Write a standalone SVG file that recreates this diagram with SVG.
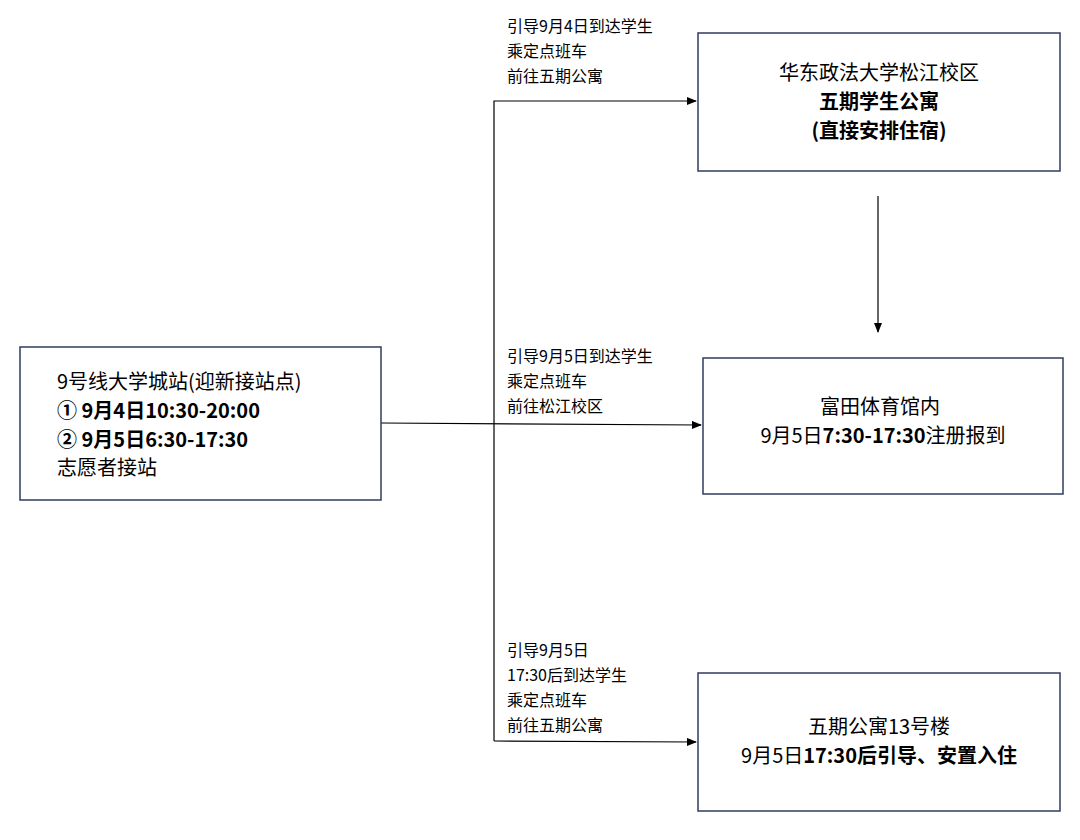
<svg xmlns="http://www.w3.org/2000/svg" width="1080" height="840" viewBox="0 0 1080 840">
<style>
text{font-family:"Noto Sans CJK SC","Noto Sans",sans-serif;fill:#000}
.box{fill:#fff;stroke:#2F3D5E;stroke-width:1.5}
.lbl{font-size:16px}
.t{font-size:20px}
.b{font-weight:bold}
.ln{stroke:#000;stroke-width:1.2;fill:none}
</style>
<defs><marker id="ar" markerWidth="10" markerHeight="8" refX="9" refY="4" orient="auto" markerUnits="userSpaceOnUse"><path d="M0,0L10,4L0,8z" fill="#000"/></marker></defs>
<rect width="1080" height="840" fill="#fff"/>
<g id="connectors">
<path class="ln" d="M381,423L701,425" marker-end="url(#ar)"/>
<path class="ln" d="M494,741L494,101L696,101" marker-end="url(#ar)"/>
<path class="ln" d="M494,741L696,742" marker-end="url(#ar)"/>
<path class="ln" d="M878,196L878,332" marker-end="url(#ar)"/>
<text class="lbl" x="507" y="32">引导9月4日到达学生</text>
<text class="lbl" x="507" y="57">乘定点班车</text>
<text class="lbl" x="507" y="82">前往五期公寓</text>
<text class="lbl" x="507" y="362">引导9月5日到达学生</text>
<text class="lbl" x="507" y="387">乘定点班车</text>
<text class="lbl" x="507" y="412">前往松江校区</text>
<text class="lbl" x="507" y="656">引导9月5日</text>
<text class="lbl" x="507" y="681">17:30后到达学生</text>
<text class="lbl" x="507" y="706">乘定点班车</text>
<text class="lbl" x="507" y="731">前往五期公寓</text>
</g>
<g id="start">
<rect class="box" x="20" y="347" width="361" height="153"/>
<text class="t" x="57" y="389">9号线大学城站(迎新接站点)</text>
<text class="t b" x="57" y="418">① 9月4日10:30-20:00</text>
<text class="t b" x="57" y="447">② 9月5日6:30-17:30</text>
<text class="t" x="57" y="475">志愿者接站</text>
</g>
<g id="dorm">
<rect class="box" x="698" y="33" width="362" height="138"/>
<text class="t" x="879" y="80" text-anchor="middle">华东政法大学松江校区</text>
<text class="t b" x="879" y="109" text-anchor="middle">五期学生公寓</text>
<text class="t b" x="879" y="138" text-anchor="middle">(直接安排住宿)</text>
</g>
<g id="gym">
<rect class="box" x="703" y="358" width="360" height="136"/>
<text class="t" x="880" y="414" text-anchor="middle">富田体育馆内</text>
<text class="t" x="883" y="443" text-anchor="middle">9月5日<tspan class="b">7:30-17:30</tspan>注册报到</text>
</g>
<g id="b13">
<rect class="box" x="698" y="673" width="362" height="138"/>
<text class="t" x="879" y="734" text-anchor="middle">五期公寓13号楼</text>
<text class="t" x="879" y="763" text-anchor="middle">9月5日<tspan class="b">17:30后引导、安置入住</tspan></text>
</g>
</svg>
